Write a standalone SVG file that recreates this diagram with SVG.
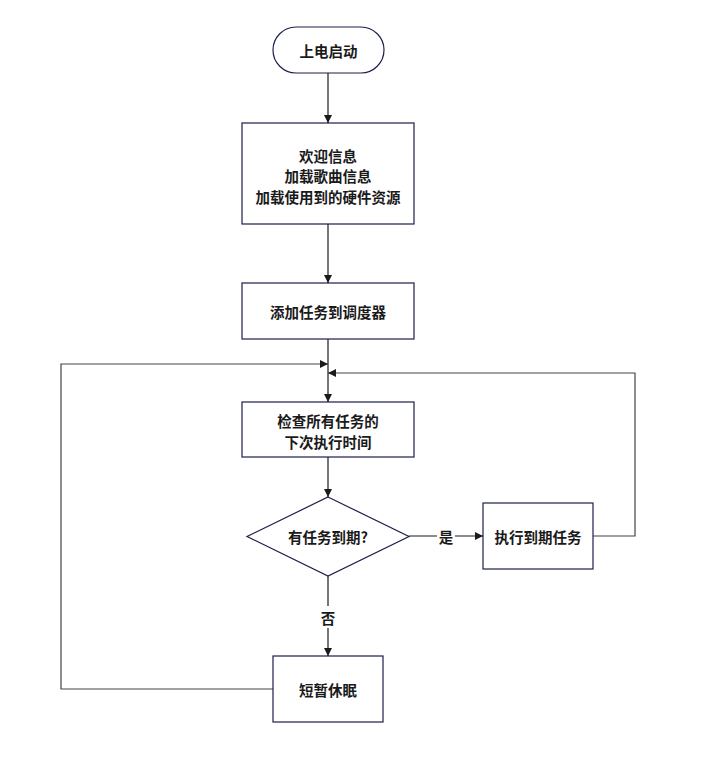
<svg xmlns="http://www.w3.org/2000/svg" width="713" height="763" viewBox="0 0 713 763">
<defs>
<marker id="ah" viewBox="0 0 10 10" refX="10" refY="5" markerWidth="8" markerHeight="8" markerUnits="userSpaceOnUse" orient="auto"><path d="M0,0 L10,5 L0,10 z" fill="#1a1a1a"/></marker>
<style>
.n{fill:#fff;stroke:#1b1f4b;stroke-width:1.2}
.t{font-family:"Noto Sans CJK SC","Noto Sans",sans-serif;font-size:14.5px;font-weight:bold;fill:#1a1a1a;text-anchor:middle;dominant-baseline:central}
.c{fill:none;stroke:#1a1a1a;stroke-width:1.2}
.g{fill:none;stroke:#444;stroke-width:1.2}
</style>
</defs>
<rect width="713" height="763" fill="#fff"/>
<g id="connectors">
<line class="c" x1="328" y1="73" x2="328" y2="123" marker-end="url(#ah)"/>
<line class="c" x1="328" y1="224" x2="328" y2="283" marker-end="url(#ah)"/>
<line class="c" x1="328" y1="339" x2="328" y2="402" marker-end="url(#ah)"/>
<line class="c" x1="328" y1="457" x2="328" y2="497" marker-end="url(#ah)"/>
<line class="c" x1="409" y1="536" x2="483" y2="536" marker-end="url(#ah)"/>
<rect x="437" y="526" width="18" height="20" fill="#fff"/>
<text class="t" x="446" y="536">是</text>
<line class="c" x1="328" y1="576" x2="328" y2="656" marker-end="url(#ah)"/>
<rect x="318" y="606" width="20" height="22" fill="#fff"/>
<text class="t" x="328" y="617">否</text>
<polyline class="g" points="593,536 635,536 635,373 328,373" marker-end="url(#ah)"/>
<polyline class="g" points="273,689 61,689 61,364 328,364" marker-end="url(#ah)"/>
</g>
<g id="start">
<rect class="n" x="273" y="27" width="111" height="46" rx="23"/>
<text class="t" x="328.5" y="50">上电启动</text>
</g>
<g id="init">
<rect class="n" x="242" y="123" width="172" height="101"/>
<text class="t" x="328" y="155">欢迎信息</text>
<text class="t" x="328" y="175">加载歌曲信息</text>
<text class="t" x="328" y="196">加载使用到的硬件资源</text>
</g>
<g id="addtask">
<rect class="n" x="242" y="283" width="172" height="56"/>
<text class="t" x="328" y="311">添加任务到调度器</text>
</g>
<g id="check">
<rect class="n" x="242" y="402" width="172" height="55"/>
<text class="t" x="328" y="420">检查所有任务的</text>
<text class="t" x="328" y="441">下次执行时间</text>
</g>
<g id="decision">
<polygon class="n" points="328,497 409,536.5 328,576 247,536.5"/>
<text class="t" x="328" y="536.5">有任务到期?</text>
</g>
<g id="exec">
<rect class="n" x="483" y="503" width="110" height="66"/>
<text class="t" x="538" y="536">执行到期任务</text>
</g>
<g id="sleep">
<rect class="n" x="273" y="656" width="110" height="66"/>
<text class="t" x="328" y="689">短暂休眠</text>
</g>
</svg>
